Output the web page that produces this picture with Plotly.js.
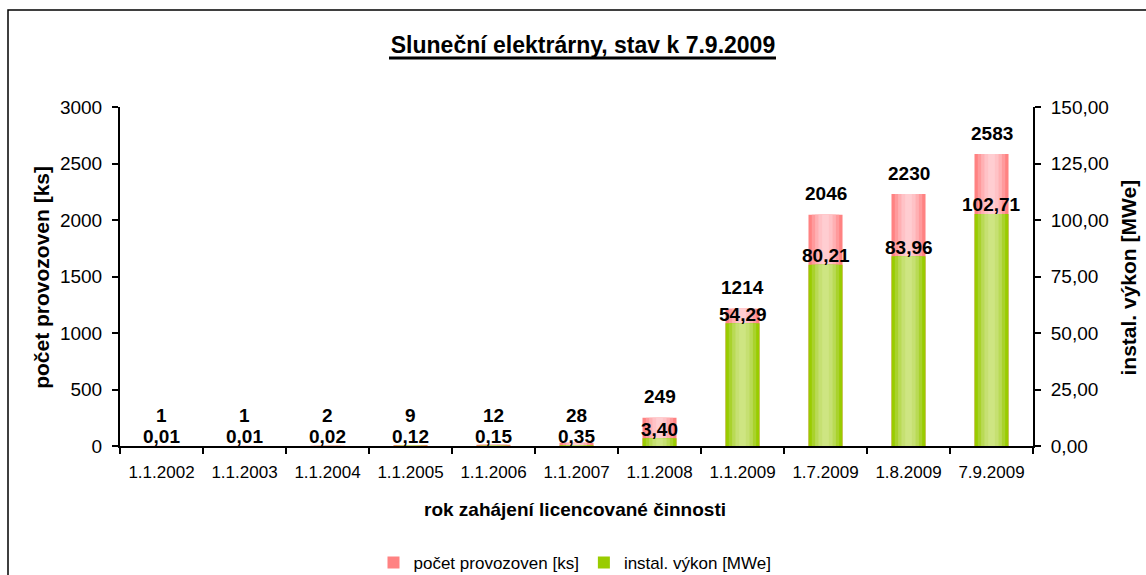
<!DOCTYPE html>
<html>
<head>
<meta charset="utf-8">
<script src="https://cdn.plot.ly/plotly-3.0.1.min.js"></script>
<style>html,body{margin:0;padding:0;background:#fff}#chart{width:1146px;height:575px}</style>
</head>
<body>
<div id="chart"></div>
<script>
// ---- data ----
const categories = ['1.1.2002','1.1.2003','1.1.2004','1.1.2005','1.1.2006','1.1.2007','1.1.2008','1.1.2009','1.7.2009','1.8.2009','7.9.2009'];
const pocet = [1, 1, 2, 9, 12, 28, 249, 1214, 2046, 2230, 2583];
const vykon = [0.01, 0.01, 0.02, 0.12, 0.15, 0.35, 3.40, 54.29, 80.21, 83.96, 102.71];
const seriesNames = ['počet provozoven [ks]', 'instal. výkon [MWe]'];
const leftRange = [0, 3000];
const rightRange = [0, 150];

// ---- style ----
const FONT = 'Liberation Sans, Arial, sans-serif';
const W = 1146, H = 575;
const M = {l: 120, r: 113, t: 107, b: 129, autoexpand: false};
const plotH = H - M.t - M.b;
const plotW = W - M.l - M.r;
const pinkLayers = [
  {w: 0.41, c: '#ff8282'}, {w: 0.33, c: '#ff9a9c'}, {w: 0.25, c: '#ffb0b3'},
  {w: 0.17, c: '#ffc2c6'}, {w: 0.08, c: '#ffcdd1'}
];
const greenLayers = [
  {w: 0.41, c: '#99cc00'}, {w: 0.33, c: '#a9d22c'}, {w: 0.25, c: '#b9da55'},
  {w: 0.17, c: '#c6e072'}, {w: 0.08, c: '#cee582'}
];

const traces = [];
pinkLayers.forEach((L, i) => traces.push({
  type: 'bar', x: categories, y: pocet, width: L.w, yaxis: 'y',
  marker: {color: L.c, line: {width: 0}}, name: seriesNames[0],
  showlegend: i === 0, legendgroup: 'p', hoverinfo: 'skip'
}));
greenLayers.forEach((L, i) => traces.push({
  type: 'bar', x: categories, y: vykon, width: L.w, yaxis: 'y2',
  marker: {color: L.c, line: {width: 0}}, name: seriesNames[1],
  showlegend: i === 0, legendgroup: 'g', hoverinfo: 'skip'
}));

const fmt2 = v => v.toFixed(2).replace('.', ',');
const annotations = [];
categories.forEach((c, i) => {
  const greenPx = vykon[i] / rightRange[1] * plotH;
  const pinkPx = pocet[i] / leftRange[1] * plotH;
  const powerLabel = greenPx + 9;
  let countLabel = pinkPx + 21;
  if (countLabel < powerLabel + 21) countLabel = powerLabel + 21;
  annotations.push({
    x: c, y: vykon[i], xref: 'x', yref: 'y2', text: '<b>' + fmt2(vykon[i]) + '</b>',
    showarrow: false, yanchor: 'middle', yshift: powerLabel - greenPx,
    font: {family: FONT, size: 19, color: '#000'}
  });
  annotations.push({
    x: c, y: pocet[i], xref: 'x', yref: 'y', text: '<b>' + pocet[i] + '</b>',
    showarrow: false, yanchor: 'middle', yshift: countLabel - pinkPx,
    font: {family: FONT, size: 19, color: '#000'}
  });
});
// axis titles
annotations.push({
  x: (42 - M.l) / plotW, y: 0.496, xref: 'paper', yref: 'paper',
  text: '<b>počet provozoven [ks]</b>', textangle: -90, showarrow: false,
  xanchor: 'center', yanchor: 'middle', font: {family: FONT, size: 21, color: '#000'}
});
annotations.push({
  x: (1129 - M.l) / plotW, y: 0.497, xref: 'paper', yref: 'paper',
  text: '<b>instal. výkon [MWe]</b>', textangle: -90, showarrow: false,
  xanchor: 'center', yanchor: 'middle', font: {family: FONT, size: 21, color: '#000'}
});
annotations.push({
  x: (575 - M.l) / plotW, y: -(509 - (H - M.b)) / plotH, xref: 'paper', yref: 'paper',
  text: '<b>rok zahájení licencované činnosti</b>', showarrow: false,
  xanchor: 'center', yanchor: 'middle', font: {family: FONT, size: 19, color: '#000'}
});

const layout = {
  width: W, height: H,
  margin: M,
  paper_bgcolor: '#fff', plot_bgcolor: '#fff',
  separators: ', ',
  barmode: 'overlay',
  font: {family: FONT, color: '#000'},
  title: {
    text: '<b>Sluneční elektrárny, stav k 7.9.2009</b>',
    font: {family: FONT, size: 23, color: '#000'},
    x: 583 / W, xref: 'container', xanchor: 'center',
    y: 1 - 45 / H, yref: 'container', yanchor: 'middle'
  },
  xaxis: {
    type: 'category', showline: true, linecolor: '#000', linewidth: 2,
    ticks: 'outside', tickson: 'boundaries', ticklen: 6, tickwidth: 2, tickcolor: '#000',
    tickfont: {family: FONT, size: 17, color: '#000'}, ticklabelstandoff: 10,
    showgrid: false, zeroline: false, fixedrange: true, automargin: false
  },
  yaxis: {
    range: leftRange, dtick: 500, tickformat: 'd',
    showline: true, linecolor: '#000', linewidth: 2,
    ticks: 'outside', ticklen: 6, tickwidth: 2, tickcolor: '#000',
    tickfont: {family: FONT, size: 19, color: '#000'}, ticklabelstandoff: 6,
    showgrid: false, zeroline: false, automargin: false
  },
  yaxis2: {
    range: rightRange, dtick: 25, tickformat: '.2f', overlaying: 'y', side: 'right',
    showline: true, linecolor: '#000', linewidth: 2,
    ticks: 'outside', ticklen: 6, tickwidth: 2, tickcolor: '#000',
    tickfont: {family: FONT, size: 19, color: '#000'}, ticklabelstandoff: 6,
    showgrid: false, zeroline: false, automargin: false
  },
  legend: {
    orientation: 'h', x: (575 - M.l) / plotW, xanchor: 'center',
    y: -(563 - (H - M.b)) / plotH, yanchor: 'middle',
    font: {family: FONT, size: 17, color: '#000'}, bgcolor: 'rgba(0,0,0,0)'
  },
  annotations: annotations,
  shapes: [{
    type: 'rect', xref: 'paper', yref: 'paper',
    x0: (8 - M.l) / plotW, x1: (1160 - M.l) / plotW,
    y0: -(600 - (H - M.b)) / plotH, y1: ((H - M.b) - 10) / plotH,
    line: {color: '#000', width: 1.5}, fillcolor: 'rgba(0,0,0,0)', layer: 'below'
  }, {
    // title underline
    type: 'line', xref: 'paper', yref: 'paper',
    x0: (389 - M.l) / plotW, x1: (776 - M.l) / plotW,
    y0: ((H - M.b) - 58) / plotH, y1: ((H - M.b) - 58) / plotH,
    line: {color: '#000', width: 3}
  }]
};

Plotly.newPlot('chart', traces, layout, {displayModeBar: false, staticPlot: true});
</script>
</body>
</html>
